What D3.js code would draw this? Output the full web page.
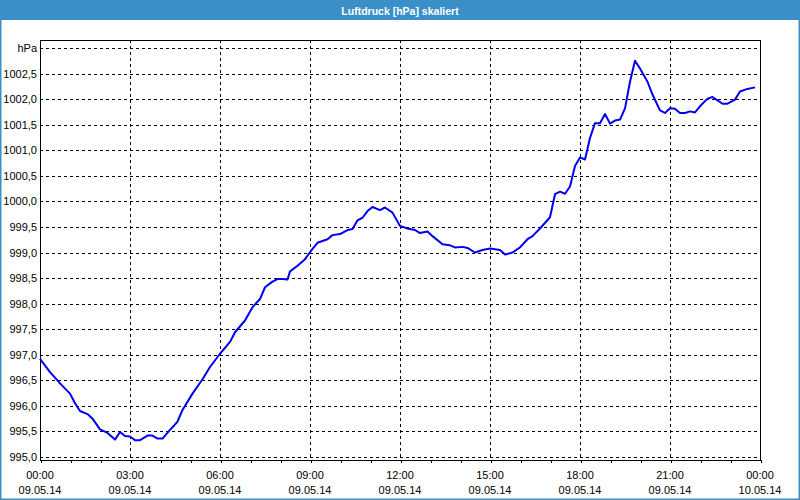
<!DOCTYPE html>
<html>
<head>
<meta charset="utf-8">
<script src="https://cdn.jsdelivr.net/npm/d3@7"></script>
<style>
  body { margin: 0; background: #fff; }
  svg { display: block; font-family: "Liberation Sans", Arial, sans-serif; }
</style>
</head>
<body>
<div class="plot"></div>
<script>
// readings of 09.05.14 (local time, hPa)
const times = [
  "00:00", "00:20", "00:35", "00:40", "01:00", "01:10", "01:20", "01:35", "01:45", "02:00",
  "02:15", "02:30", "02:40", "02:50", "03:00", "03:10", "03:20", "03:35", "03:45", "03:55",
  "04:05", "04:20", "04:35", "04:45", "05:05", "05:25", "05:40", "06:00", "06:20", "06:30",
  "06:50", "07:05", "07:20", "07:30", "07:45", "07:55", "08:05", "08:15", "08:20", "08:35",
  "08:50", "09:05", "09:15", "09:35", "09:45", "10:00", "10:15", "10:25", "10:35", "10:45",
  "10:55", "11:05", "11:20", "11:30", "11:45", "12:00", "12:15", "12:30", "12:40", "12:55",
  "13:05", "13:25", "13:40", "13:50", "14:05", "14:15", "14:30", "14:45", "15:00", "15:20",
  "15:30", "15:45", "16:00", "16:15", "16:25", "16:40", "17:00", "17:10", "17:20", "17:30",
  "17:40", "17:50", "18:00", "18:10", "18:20", "18:30", "18:40", "18:50", "19:00", "19:10",
  "19:20", "19:30", "19:40", "19:50", "20:00", "20:15", "20:25", "20:40", "20:50", "21:00",
  "21:10", "21:20", "21:30", "21:40", "21:50", "22:00", "22:15", "22:25", "22:45", "22:55",
  "23:10", "23:20", "23:35", "23:50"
];
const pressure = [
  996.92, 996.66, 996.50, 996.44, 996.24, 996.05, 995.90, 995.84, 995.75, 995.54,
  995.47, 995.34, 995.49, 995.41, 995.40, 995.33, 995.33, 995.42, 995.42, 995.36,
  995.36, 995.53, 995.69, 995.92, 996.24, 996.52, 996.76, 997.02, 997.25, 997.44,
  997.67, 997.93, 998.09, 998.32, 998.43, 998.48, 998.48, 998.47, 998.63, 998.74,
  998.87, 999.07, 999.19, 999.26, 999.34, 999.36, 999.44, 999.46, 999.63, 999.68,
  999.81, 999.89, 999.83, 999.88, 999.78, 999.52, 999.47, 999.44, 999.38, 999.41,
  999.32, 999.16, 999.14, 999.10, 999.11, 999.09, 999.00, 999.05, 999.08, 999.05,
  998.96, 999.00, 999.10, 999.26, 999.32, 999.47, 999.69, 1000.14, 1000.19, 1000.15,
  1000.29, 1000.69, 1000.86, 1000.82, 1001.24, 1001.53, 1001.53, 1001.71, 1001.52, 1001.58,
  1001.60, 1001.82, 1002.34, 1002.75, 1002.60, 1002.34, 1002.09, 1001.78, 1001.73, 1001.82,
  1001.81, 1001.73, 1001.73, 1001.76, 1001.74, 1001.86, 1002.01, 1002.04, 1001.91, 1001.91,
  1001.99, 1002.15, 1002.20, 1002.23
];
const yTicks = [995.0, 995.5, 996.0, 996.5, 997.0, 997.5, 998.0, 998.5, 999.0, 999.5,
                1000.0, 1000.5, 1001.0, 1001.5, 1002.0, 1002.5, 1003.0];
const topLabel = "hPa";
const title = "Luftdruck [hPa] skaliert";
const startDay = "2014-05-09";
const endDay = "2014-05-10";

const W = 800, H = 500;
const frame = { left: 40, right: 760, top: 40, bottom: 460 };
const blue = "#3b8fc7";

const parseTime = d3.timeParse("%Y-%m-%d %H:%M");
const data = times.map((t, i) => ({ date: parseTime(startDay + " " + t), value: pressure[i] }));

const svg = d3.select(".plot")
    .append("svg")
    .attr("width", W)
    .attr("height", H);

// window frame and title bar
svg.append("rect")
    .attr("x", 0.75).attr("y", 0.75)
    .attr("width", W - 1.5).attr("height", H - 1.5)
    .attr("fill", "#fff")
    .attr("stroke", blue)
    .attr("stroke-width", 1.5);

svg.append("rect")
    .attr("x", 0).attr("y", 0)
    .attr("width", W).attr("height", 20)
    .attr("fill", blue);

svg.append("text")
    .attr("x", W / 2).attr("y", 14.5)
    .attr("text-anchor", "middle")
    .attr("fill", "#fff")
    .attr("font-weight", "bold")
    .attr("font-size", 10.5)
    .text(title);

const x = d3.scaleTime()
    .domain([parseTime(startDay + " 00:00"), parseTime(endDay + " 00:00")])
    .range([frame.left, frame.right]);

const y = d3.scaleLinear()
    .domain([995, 1003])
    .range([457, 48]);

const fmt = d3.format(".1f");

// horizontal grid
svg.append("g")
    .selectAll("line")
    .data(yTicks)
    .enter().append("line")
    .attr("x1", frame.left).attr("x2", frame.right)
    .attr("y1", d => Math.round(y(d)) + 0.5)
    .attr("y2", d => Math.round(y(d)) + 0.5)
    .attr("stroke", "#000")
    .attr("stroke-dasharray", "3,3")
    .attr("shape-rendering", "crispEdges");

// vertical grid every 3 hours
const major = x.ticks(d3.timeHour.every(3));
svg.append("g")
    .selectAll("line")
    .data(major.slice(1, -1))
    .enter().append("line")
    .attr("x1", d => Math.round(x(d)) + 0.5)
    .attr("x2", d => Math.round(x(d)) + 0.5)
    .attr("y1", frame.top).attr("y2", frame.bottom)
    .attr("stroke", "#000")
    .attr("stroke-dasharray", "3,3")
    .attr("shape-rendering", "crispEdges");

// y labels
svg.append("g")
    .selectAll("text")
    .data(yTicks)
    .enter().append("text")
    .attr("x", frame.left - 3)
    .attr("y", d => y(d) + 4)
    .attr("text-anchor", "end")
    .attr("font-size", 11)
    .attr("fill", "#000")
    .text(d => d === 1003 ? topLabel : fmt(d).replace(".", ","));

// hourly ticks
const xAxis = d3.axisBottom(x)
    .ticks(d3.timeHour.every(1))
    .tickSize(3)
    .tickFormat("");

svg.append("g")
    .attr("transform", `translate(0.5, ${frame.bottom})`)
    .call(xAxis)
    .call(g => g.select(".domain").remove())
    .call(g => g.selectAll("line").attr("stroke", "#000").attr("shape-rendering", "crispEdges"));

// time / date labels
const timeFmt = d3.timeFormat("%H:%M");
const dateFmt = d3.timeFormat("%d.%m.%y");
const lbl = svg.append("g")
    .selectAll("g")
    .data(major)
    .enter().append("g")
    .attr("transform", d => `translate(${x(d)}, 0)`);
lbl.append("text")
    .attr("y", 479)
    .attr("text-anchor", "middle")
    .attr("font-size", 11)
    .text(d => timeFmt(d));
lbl.append("text")
    .attr("y", 494)
    .attr("text-anchor", "middle")
    .attr("font-size", 11)
    .text(d => dateFmt(d));

// plot frame
svg.append("rect")
    .attr("x", frame.left + 0.5).attr("y", frame.top + 0.5)
    .attr("width", frame.right - frame.left)
    .attr("height", frame.bottom - frame.top)
    .attr("fill", "none")
    .attr("stroke", "#000")
    .attr("shape-rendering", "crispEdges");

const lineGenerator = d3.line()
    .x(d => x(d.date))
    .y(d => y(d.value));

svg.append("path")
    .datum(data)
    .attr("fill", "none")
    .attr("stroke", "#0000f0")
    .attr("stroke-width", 2)
    .attr("stroke-linejoin", "round")
    .attr("d", lineGenerator);
</script>
</body>
</html>
